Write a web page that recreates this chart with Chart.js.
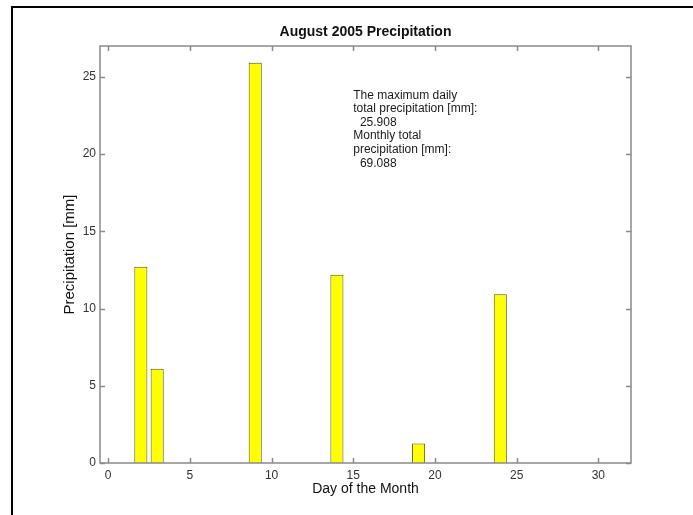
<!DOCTYPE html>
<html>
<head>
<meta charset="utf-8">
<script src="https://cdn.jsdelivr.net/npm/chart.js@4/dist/chart.umd.min.js"></script>
<style>
  html, body { margin: 0; padding: 0; background: #fff; overflow: hidden; }
  #wrap { position: relative; width: 693px; height: 515px; }
  #frame { position: absolute; left: 11px; top: 6px; width: 700px; height: 540px;
           border: 2px solid #000; box-sizing: border-box; pointer-events: none; }
  canvas { position: absolute; left: 0; top: 0; }
</style>
</head>
<body>
<div id="wrap">
  <canvas id="c" width="693" height="515"></canvas>
  <div id="frame"></div>
</div>
<script>
// Daily precipitation for August 2005 (days with rain only), in mm
const days = [2, 3, 9, 14, 19, 24];
const precipMm = [12.7, 6.096, 25.908, 12.192, 1.27, 10.922];

// Axis tick values
const xTicks = [0, 5, 10, 15, 20, 25, 30];
const yTicks = [0, 5, 10, 15, 20, 25];

// Summary figures shown in the text block
const maxDaily = Math.max(...precipMm);
const monthlyTotal = precipMm.reduce((a, b) => a + b, 0);
const noteLines = [
  'The maximum daily',
  'total precipitation [mm]:',
  '  ' + maxDaily.toFixed(3),
  'Monthly total',
  'precipitation [mm]:',
  '  ' + monthlyTotal.toFixed(3)
];

const FONT = '"Liberation Sans", Arial, Helvetica, sans-serif';
const AXIS_COLOR = '#8a8a8a';

// Axes box with inward tick marks on all four sides, plus title and text block
const boxPlugin = {
  id: 'boxAxes',
  afterDraw(chart) {
    const { ctx, chartArea: a, scales: { x, y } } = chart;
    const tl = 5;
    ctx.save();
    ctx.strokeStyle = AXIS_COLOR;
    ctx.lineWidth = 1.5;
    ctx.strokeRect(a.left, a.top, a.right - a.left, a.bottom - a.top);
    ctx.beginPath();
    x.ticks.forEach(t => {
      const px = Math.round(x.getPixelForValue(t.value)) + 0.5;
      ctx.moveTo(px, a.bottom); ctx.lineTo(px, a.bottom - tl);
      ctx.moveTo(px, a.top); ctx.lineTo(px, a.top + tl);
    });
    y.ticks.forEach(t => {
      const py = Math.round(y.getPixelForValue(t.value)) + 0.5;
      ctx.moveTo(a.left, py); ctx.lineTo(a.left + tl, py);
      ctx.moveTo(a.right, py); ctx.lineTo(a.right - tl, py);
    });
    ctx.stroke();

    // title
    ctx.fillStyle = '#111';
    ctx.font = 'bold 14px ' + FONT;
    ctx.textAlign = 'center';
    ctx.textBaseline = 'alphabetic';
    ctx.fillText('August 2005 Precipitation', (a.left + a.right) / 2, 36);

    // text block placed in data coordinates
    ctx.font = '12px ' + FONT;
    ctx.textAlign = 'left';
    ctx.fillStyle = '#1a1a1a';
    const tx = x.getPixelForValue(15);
    const ty = y.getPixelForValue(23.6);
    noteLines.forEach((s, i) => ctx.fillText(s, tx, ty + i * 13.6));
    ctx.restore();
  }
};

new Chart(document.getElementById('c'), {
  type: 'bar',
  data: {
    datasets: [{
      data: days.map((d, i) => ({ x: d, y: precipMm[i] })),
      backgroundColor: '#ffff00',
      borderColor: '#5a5a00',
      borderWidth: 1,
      categoryPercentage: 0.8,
      barPercentage: 1.0
    }]
  },
  options: {
    responsive: false,
    animation: false,
    devicePixelRatio: 1,
    layout: { padding: { left: 0, top: 46, right: 62, bottom: 0 } },
    plugins: { legend: { display: false }, tooltip: { enabled: false }, title: { display: false } },
    scales: {
      x: {
        type: 'linear',
        offset: false,
        min: -0.5,
        max: 32,
        afterBuildTicks: s => { s.ticks = xTicks.map(v => ({ value: v })); },
        afterFit: s => { s.height = 52; },
        grid: { display: false, drawTicks: false },
        border: { display: false },
        ticks: { color: '#333', font: { family: FONT, size: 12 }, padding: 5, maxRotation: 0, autoSkip: false },
        title: { display: true, text: 'Day of the Month', color: '#111',
                 font: { family: FONT, size: 14 }, padding: { top: 0, bottom: 17 } }
      },
      y: {
        min: 0,
        max: 27,
        afterBuildTicks: s => { s.ticks = yTicks.map(v => ({ value: v })); },
        afterFit: s => { s.width = 100; },
        grid: { display: false, drawTicks: false },
        border: { display: false },
        ticks: { color: '#333', font: { family: FONT, size: 12 }, padding: 4 },
        title: { display: true, text: 'Precipitation [mm]', color: '#111',
                 font: { family: FONT, size: 15 }, padding: { top: 61, bottom: 0 } }
      }
    }
  },
  plugins: [boxPlugin]
});
</script>
</body>
</html>
